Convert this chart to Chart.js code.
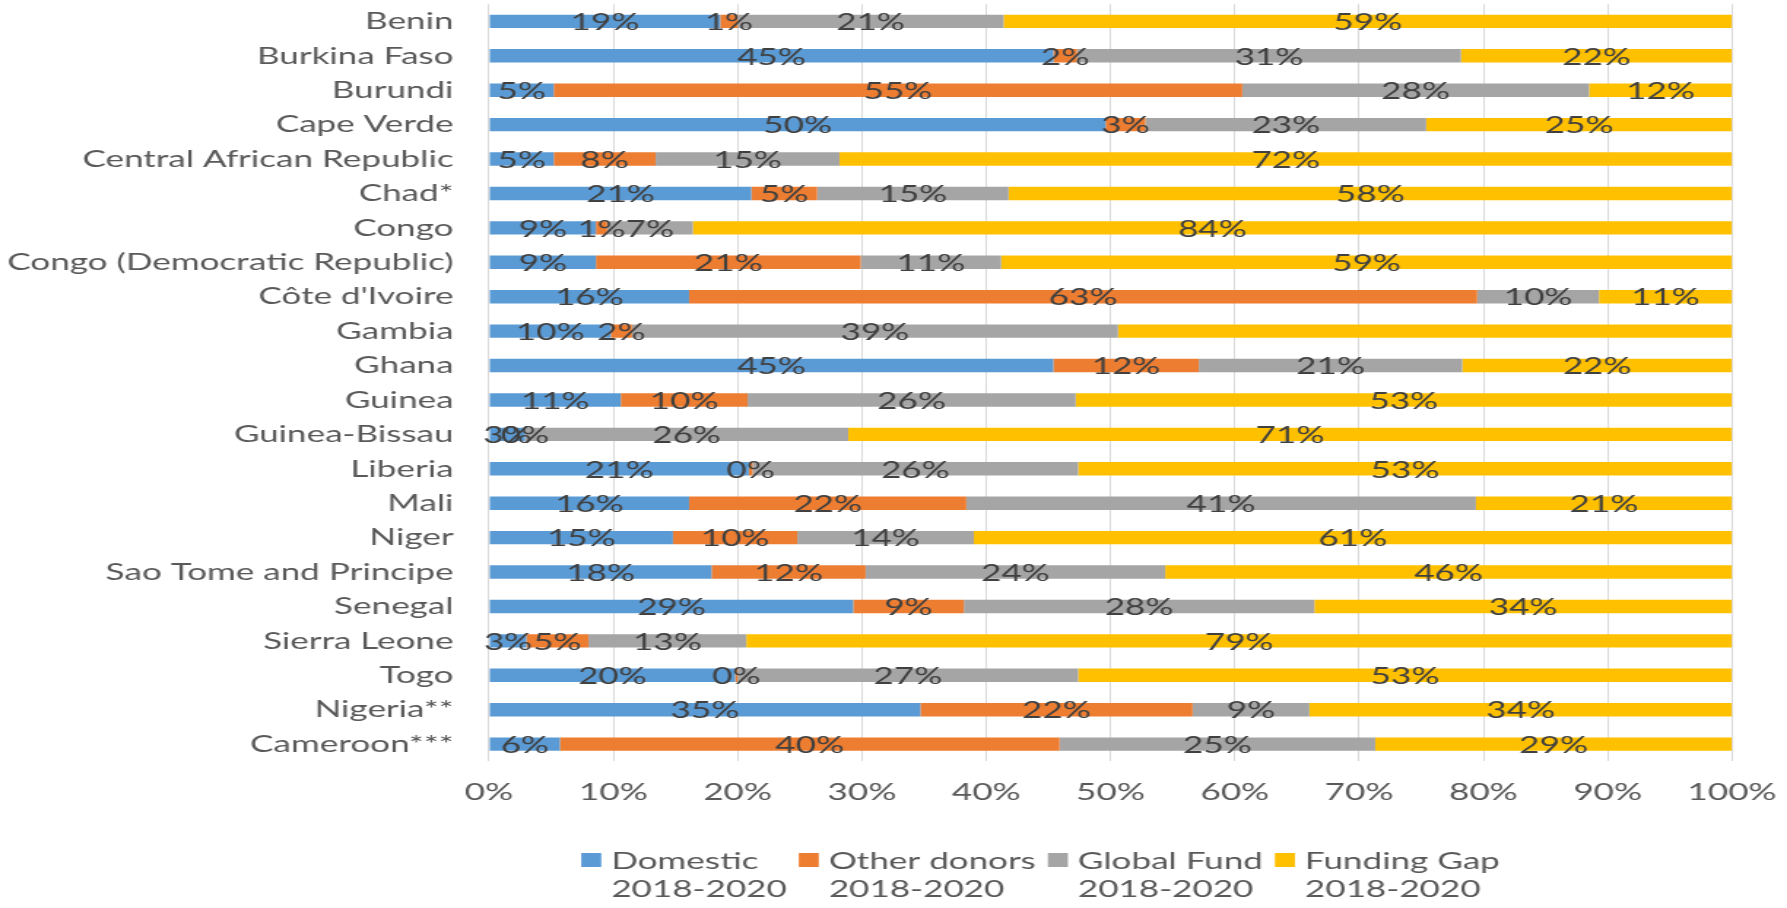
<!DOCTYPE html>
<html><head><meta charset="utf-8">
<script src="https://cdn.jsdelivr.net/npm/chart.js@4.4.1/dist/chart.umd.min.js"></script>
<style>
html,body{margin:0;padding:0;background:#fff;overflow:hidden}
#wrap{position:relative;width:1787px;height:908px;overflow:hidden;background:#fff}
#c{position:absolute;left:0;top:0;transform-origin:0 0}
</style></head><body>
<div id="wrap"><canvas id="c"></canvas></div>
<script>
// ---------------- data ----------------
const categories = ['Benin','Burkina Faso','Burundi','Cape Verde','Central African Republic','Chad*','Congo','Congo (Democratic Republic)',"Côte d'Ivoire",'Gambia','Ghana','Guinea','Guinea-Bissau','Liberia','Mali','Niger','Sao Tome and Principe','Senegal','Sierra Leone','Togo','Nigeria**','Cameroon***'];
const seriesNames = ['Domestic 2018-2020','Other donors 2018-2020','Global Fund 2018-2020','Funding Gap 2018-2020'];
const domestic    = [18.6,45.4,5.2,49.6,5.2,21.1,8.6,8.6,16.1,9.8,45.4,10.6,2.9,20.9,16.1,14.8,17.9,29.3,3.0,19.8,34.7,5.7];
const otherDonors = [1.4,1.9,55.4,3.2,8.2,5.3,0.9,21.3,63.4,1.7,11.7,10.2,0.0,0.3,22.3,10.0,12.4,8.9,5.0,0.2,21.9,40.2];
const globalFund  = [21.4,30.9,27.9,22.6,14.8,15.4,6.9,11.3,9.8,39.1,21.2,26.4,26.0,26.2,41.0,14.2,24.1,28.2,12.7,27.4,9.4,25.4];
const fundingGap  = [58.6,21.8,11.5,24.6,71.8,58.2,83.6,58.8,10.7,49.4,21.7,52.8,71.1,52.6,20.6,61.0,45.6,33.6,79.3,52.6,34.0,28.7];
const xTickValues = [0,10,20,30,40,50,60,70,80,90,100];
const hiddenLabels = [{series:3, category:'Gambia'}];
const seriesColors = ['#5B9BD5','#ED7D31','#A5A5A5','#FFC000'];

// ---------------- layout ----------------
const FS = 24;
const FONT = 'Lato';
const mc = document.createElement('canvas').getContext('2d');
mc.font = FS + 'px ' + FONT;
const sRaw = 371 / mc.measureText('Central African Republic').width;
const W = Math.round(1787 / sRaw);
const S = 1787 / W;
const H = 908;
const canvas = document.getElementById('c');
canvas.width = W; canvas.height = H;
canvas.style.width = W + 'px'; canvas.style.height = H + 'px';
canvas.style.transform = 'scaleX(' + S + ')';

const PLOT_LEFT = 489, PLOT_RIGHT = 1732, PLOT_BOTTOM = 761.3, LABEL_RIGHT = 453.5;

const dataLabelPlugin = {
  id: 'dataLabels',
  afterDatasetsDraw(chart) {
    const ctx = chart.ctx;
    ctx.save();
    ctx.font = FS + 'px ' + FONT;
    ctx.fillStyle = '#404040';
    ctx.textAlign = 'center';
    ctx.textBaseline = 'middle';
    chart.data.datasets.forEach((ds, i) => {
      const meta = chart.getDatasetMeta(i);
      meta.data.forEach((bar, j) => {
        if (hiddenLabels.some(h => h.series === i && h.category === chart.data.labels[j])) return;
        const v = ds.data[j];
        const txt = Math.round(v) + '%';
        ctx.fillText(txt, (bar.x + bar.base) / 2, bar.y + 1);
      });
    });
    ctx.restore();
  }
};

const legendPlugin = {
  id: 'customLegend',
  afterDraw(chart) {
    const ctx = chart.ctx;
    ctx.save();
    ctx.font = FS + 'px ' + FONT;
    const items = chart.data.datasets.map(ds => {
      const k = ds.label.lastIndexOf(' ');
      return {lines: [ds.label.slice(0, k), ds.label.slice(k + 1)], color: ds.backgroundColor};
    });
    const boxW = 20 / S, boxH = 14, gap = 10 / S, spacing = 12 / S;
    const widths = items.map(it => boxW + gap + Math.max(...it.lines.map(l => ctx.measureText(l).width)));
    const total = widths.reduce((a, b) => a + b, 0) + spacing * (items.length - 1);
    let x = 1040.5 / S - total / 2;
    const y1 = 861, y2 = 889.5;
    ctx.textAlign = 'left';
    ctx.textBaseline = 'middle';
    items.forEach((it, k) => {
      ctx.fillStyle = it.color;
      ctx.fillRect(x, 853, boxW, boxH);
      ctx.fillStyle = '#595959';
      ctx.fillText(it.lines[0], x + boxW + gap, y1);
      ctx.fillText(it.lines[1], x + boxW + gap, y2);
      x += widths[k] + spacing;
    });
    ctx.restore();
  }
};

const seriesData = [domestic, otherDonors, globalFund, fundingGap];

new Chart(canvas, {
  type: 'bar',
  data: {
    labels: categories,
    datasets: seriesData.map((d, i) => ({
      label: seriesNames[i],
      data: d,
      backgroundColor: seriesColors[i],
      borderWidth: 0,
      categoryPercentage: 1,
      barPercentage: 0.39
    }))
  },
  options: {
    indexAxis: 'y',
    responsive: false,
    maintainAspectRatio: false,
    animation: false,
    devicePixelRatio: 1,
    layout: {padding: {left: 0, top: 0, right: (1787 - PLOT_RIGHT) / S, bottom: 0}},
    plugins: {legend: {display: false}, tooltip: {enabled: false}},
    scales: {
      x: {
        stacked: true,
        min: 0, max: 100,
        afterBuildTicks(scale) { scale.ticks = xTickValues.map(v => ({value: v})); },
        afterFit(scale) { scale.height = H - PLOT_BOTTOM; },
        grid: {color: '#D9D9D9', lineWidth: 1, drawTicks: true, tickLength: 17, tickColor: 'rgba(0,0,0,0)'},
        border: {display: false},
        ticks: {
          color: '#595959', font: {family: FONT, size: FS}, padding: 0,
          maxRotation: 0, autoSkip: false,
          callback: v => v + '%'
        }
      },
      y: {
        stacked: true,
        afterFit(scale) { scale.width = PLOT_LEFT / S; },
        grid: {display: true, drawOnChartArea: false, drawTicks: true, tickLength: (PLOT_LEFT - LABEL_RIGHT) / S, tickColor: 'rgba(0,0,0,0)'},
        border: {display: false},
        ticks: {color: '#595959', font: {family: FONT, size: FS, lineHeight: 0.35}, padding: 0, autoSkip: false}
      }
    }
  },
  plugins: [dataLabelPlugin, legendPlugin]
});
</script>
</body></html>
